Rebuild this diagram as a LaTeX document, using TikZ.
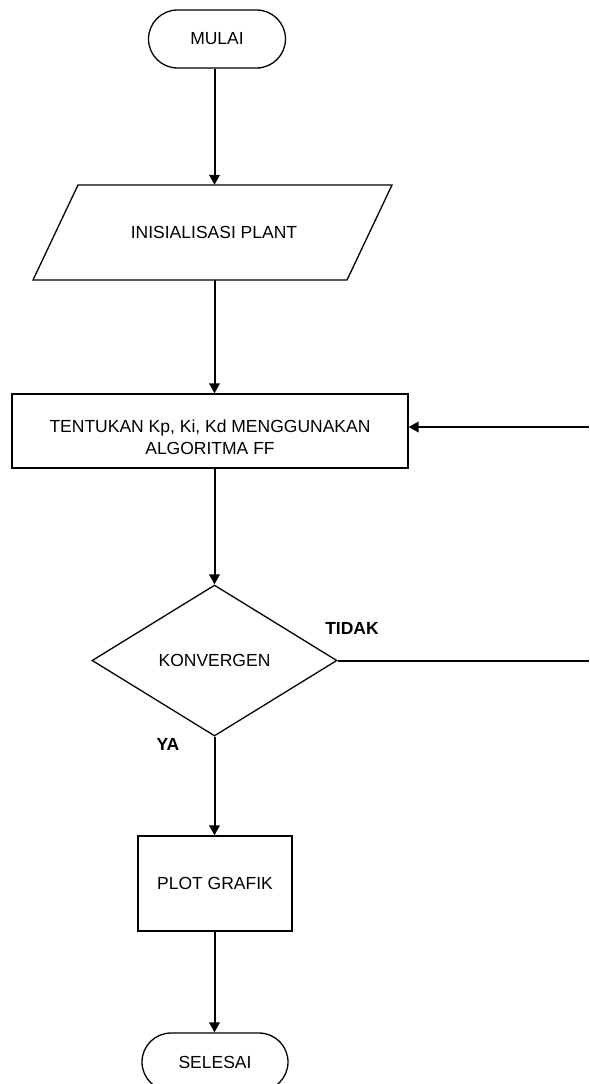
\documentclass[tikz,border=0pt]{standalone}
\usepackage{fontspec}
\setmainfont{Liberation Sans}
\usetikzlibrary{shapes.geometric,shapes.misc,arrows.meta}
\begin{document}
\begin{tikzpicture}[x=1pt,y=-1pt,
  every node/.style={font=\fontsize{17.5}{22}\selectfont, inner sep=0pt},
  shapeline/.style={draw=black, line width=1.3pt},
  terminal/.style={shapeline, rounded rectangle, minimum height=58pt},
  procbox/.style={shapeline, rectangle},
  decision/.style={shapeline, diamond, minimum width=245pt, minimum height=151pt},
  flow/.style={line width=2pt, -{Triangle[length=10pt,width=10.5pt]}},
  plainline/.style={line width=2pt},
  lbl/.style={font=\fontsize{17.5}{20}\selectfont\bfseries}
]
\useasboundingbox (0,0) rectangle (589,1084);

% terminal start
\node[terminal, minimum width=137pt] (mulai) at (217,39) {MULAI};

% parallelogram (input)
\node[minimum width=314pt, minimum height=95pt] (para) at (214,232.5) {INISIALISASI PLANT};
\draw[shapeline, line join=miter] (78,185) -- (392,185) -- (347,280) -- (33,280) -- cycle;

% process box
\node[procbox, minimum width=396pt, minimum height=74pt] (tentukan) at (210,431) {};
\node[align=center] (tentukantext) at (210,437) {TENTUKAN Kp, Ki, Kd MENGGUNAKAN\\ALGORITMA FF};

% decision
\node[decision] (konv) at (214.5,660.5) {KONVERGEN};

% plot box
\node[procbox, minimum width=154pt, minimum height=95pt] (plot) at (215,883.5) {PLOT GRAFIK};

% terminal end
\node[terminal, minimum width=146pt] (selesai) at (215,1062) {SELESAI};

% connectors
\draw[flow] (mulai.south -| konv.north) -- (para.north -| konv.north);
\draw[flow] (para.south -| konv.north) -- (tentukan.north -| konv.north);
\draw[flow] (tentukan.south -| konv.north) -- (konv.north);
\draw[flow] (konv.south) -- (plot.north -| konv.south);
\draw[flow] (plot.south -| konv.south) -- (selesai.north -| konv.south);

\coordinate (rA) at (589,660.5);
\coordinate (rB) at (589,427);
\draw[plainline] (konv.east) -- (rA);
\draw[flow] (rB) -- (rB -| tentukan.east);

% labels
\node[lbl] (tidak) at (352,628) {TIDAK};
\node[lbl] (ya) at (168,744) {YA};
\end{tikzpicture}
\end{document}
